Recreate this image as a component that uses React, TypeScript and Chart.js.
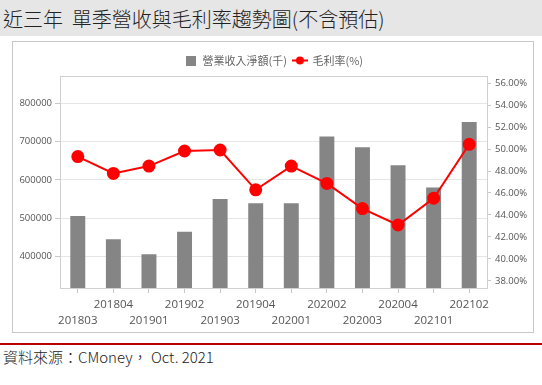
import React, { useEffect, useRef } from "react";
import { Chart, registerables } from "chart.js";

Chart.register(...registerables);

const categories = ["201803", "201804", "201901", "201902", "201903", "201904", "202001", "202002", "202003", "202004", "202101", "202102"];
const revenue = [506000, 445000, 406000, 465000, 550000, 539000, 539000, 713000, 685000, 638000, 580000, 751000];
const grossMargin = [49.31, 47.78, 48.45, 49.82, 49.91, 46.29, 48.45, 46.87, 44.58, 43.09, 45.52, 50.43];
const leftTicks = [400000, 500000, 600000, 700000, 800000];
const rightTicks = [38, 40, 42, 44, 46, 48, 50, 52, 54, 56];
const revenueLabel = "營業收入淨額(千)";
const marginLabel = "毛利率(%)";

const FONT = '"Segoe UI", "Open Sans", "Noto Sans CJK TC", sans-serif';
const CJK = '"Noto Sans CJK TC", "Microsoft JhengHei", sans-serif';

function makeSquare() {
  const c = document.createElement("canvas");
  c.width = 14; c.height = 11;
  const g = c.getContext("2d")!;
  g.fillStyle = "#858585";
  g.fillRect(3, 1, 10, 10);
  return c;
}
function makeLineMarker() {
  const c = document.createElement("canvas");
  c.width = 16; c.height = 11;
  const g = c.getContext("2d")!;
  g.strokeStyle = "#ff0000";
  g.lineWidth = 2;
  g.beginPath(); g.moveTo(0, 5.5); g.lineTo(16, 5.5); g.stroke();
  g.fillStyle = "#ff0000";
  g.beginPath(); g.arc(8, 5.5, 4, 0, Math.PI * 2); g.fill();
  return c;
}

const areaBorder = {
  id: "areaBorder",
  beforeDatasetsDraw(chart: any) {
    const { ctx, chartArea } = chart;
    ctx.save();
    ctx.strokeStyle = "#d0d0d0";
    ctx.lineWidth = 1;
    ctx.strokeRect(Math.round(chartArea.left) + 0.5, Math.round(chartArea.top) + 0.5, Math.round(chartArea.right - chartArea.left), Math.round(chartArea.bottom - chartArea.top));
    ctx.restore();
  },
};

export default function App() {
  const ref = useRef<HTMLCanvasElement>(null);
  useEffect(() => {
    const sq = makeSquare();
    const ln = makeLineMarker();
    const chart = new Chart(ref.current!, {
      type: "bar",
      data: {
        labels: categories,
        datasets: [
          {
            type: "bar",
            label: revenueLabel,
            data: revenue,
            backgroundColor: "#858585",
            borderWidth: 0,
            yAxisID: "y",
            order: 2,
            barPercentage: 0.42,
            categoryPercentage: 1,
          },
          {
            type: "line",
            label: marginLabel,
            data: grossMargin,
            borderColor: "#ff0000",
            backgroundColor: "#ff0000",
            borderWidth: 2,
            pointRadius: 5.5,
            pointBackgroundColor: "#ff0000",
            pointBorderColor: "#ff0000",
            yAxisID: "y1",
            order: 1,
            tension: 0,
          } as any,
        ],
      },
      options: {
        animation: false,
        responsive: false,
        layout: { padding: { top: 7, left: 0, right: 0, bottom: 0 } },
        plugins: {
          tooltip: { enabled: false },
          legend: {
            position: "top",
            labels: {
              usePointStyle: true,
              pointStyleWidth: 14,
              padding: 6,
              color: "#666",
              font: { family: CJK, size: 11 },
              generateLabels: () => [
                { text: revenueLabel, pointStyle: sq as any, datasetIndex: 0, hidden: false, fontColor: "#666", lineWidth: 0 } as any,
                { text: marginLabel, pointStyle: ln as any, datasetIndex: 1, hidden: false, fontColor: "#666", lineWidth: 0 } as any,
              ],
            },
          },
        },
        scales: {
          x: {
            offset: true,
            grid: { drawOnChartArea: false, drawTicks: true, tickLength: 5, tickColor: "#c8c8c8", offset: false },
            border: { display: true, color: "#c8c8c8" },
            ticks: {
              autoSkip: false,
              maxRotation: 0,
              padding: 3,
              color: "#555",
              font: { family: FONT, size: 11.5, lineHeight: 1.45 },
              callback: (_v: any, i: number) => (i % 2 === 0 ? ["", categories[i]] : [categories[i], ""]),
            },
            afterFit: (s: any) => { s.height = 44; },
          },
          y: {
            position: "left",
            min: 318000,
            max: 871000,
            afterBuildTicks: (s: any) => { s.ticks = leftTicks.map((v) => ({ value: v })); },
            grid: { color: "#e6e6e6", tickLength: 5, tickColor: "#c8c8c8" },
            border: { display: true, color: "#d0d0d0" },
            ticks: { color: "#555", padding: 3, font: { family: FONT, size: 9.5 }, callback: (v: any) => String(v) },
            afterFit: (s: any) => { s.width = 47; },
          },
          y1: {
            position: "right",
            min: 37.36,
            max: 56.64,
            afterBuildTicks: (s: any) => { s.ticks = rightTicks.map((v) => ({ value: v })); },
            grid: { drawOnChartArea: false, tickLength: 4, tickColor: "#c8c8c8" },
            border: { display: true, color: "#d0d0d0" },
            ticks: { color: "#555", padding: 4, font: { family: FONT, size: 9.5 }, callback: (v: any) => Number(v).toFixed(2) + "%" },
            afterFit: (s: any) => { s.width = 46; },
          },
        },
      },
      plugins: [areaBorder],
    });
    return () => chart.destroy();
  }, []);

  return (
    <div style={{ position: "fixed", left: 0, top: 0, width: 542, height: 385, background: "#fff", overflow: "hidden" }}>
      <div style={{ position: "absolute", left: 0, top: 0, width: 542, height: 36, background: "#e6e6e6" }} />
      <div style={{ position: "absolute", left: 3, top: 0, height: 37, lineHeight: "37px", fontFamily: CJK, fontSize: 20, fontWeight: 300, color: "#222", whiteSpace: "pre" }}>
        {"近三年  單季營收與毛利率趨勢圖(不含預估)"}
      </div>
      <div style={{ position: "absolute", left: 12, top: 41, width: 520, height: 290, border: "1px solid #c8c8c8" }}>
        <canvas ref={ref} width={520} height={290} style={{ display: "block", width: 520, height: 290 }} />
      </div>
      <div style={{ position: "absolute", left: 0, top: 343, width: 542, height: 2, background: "#b80000" }} />
      <div style={{ position: "absolute", left: 3, top: 347, height: 20, lineHeight: "20px", fontFamily: CJK, fontSize: 15, fontWeight: 300, color: "#222", whiteSpace: "pre" }}>
        {"資料來源：CMoney， Oct. 2021"}
      </div>
    </div>
  );
}
